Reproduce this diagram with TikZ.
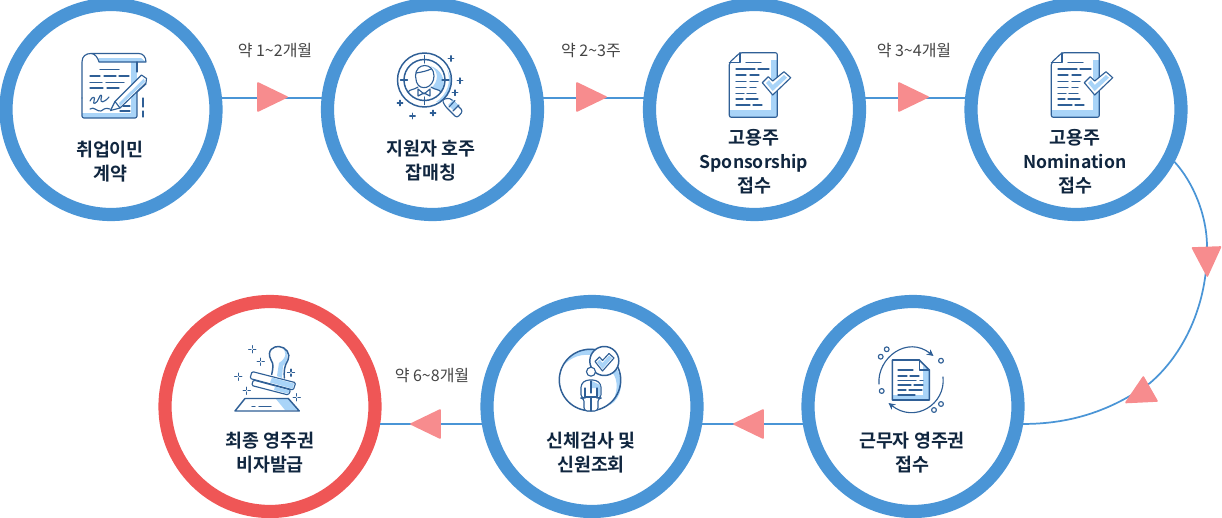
\documentclass[tikz,border=0pt]{standalone}
\usepackage{fontspec}
\setmainfont{Noto Sans CJK KR}
\newfontfamily\krb{Noto Sans CJK KR Bold}
\newfontfamily\krr{Noto Sans CJK KR}
\newcommand{\lat}[1]{{\fontsize{13.2}{18}\selectfont\kern-.1pt #1}}
\usetikzlibrary{arrows.meta}
\definecolor{ringb}{HTML}{4A95D6}
\definecolor{ringr}{HTML}{EF5656}
\definecolor{trip}{HTML}{F78C8E}
\definecolor{icd}{HTML}{2F5F96}
\definecolor{icl}{HTML}{A9D4F8}
\definecolor{txd}{HTML}{10263F}
\definecolor{txg}{HTML}{444444}
\tikzset{
 x=0.75pt,y=-0.75pt,
 ring/.style={circle,draw=ringb,fill=white,line width=9.9pt,minimum size=157.5pt,inner sep=0pt,outer sep=4.95pt},
 redring/.style={ring,draw=ringr},
 conn/.style={draw=ringb,line width=1.3pt},
 tri/.style={fill=trip,draw=trip,line width=1.2pt,line join=round},
 ic/.style={draw=icd,line width=.85pt,line cap=round,line join=round},
 lit/.style={fill=icl,draw=none},
 steplabel/.style={text=txd,align=center,inner sep=0pt,font=\fontsize{13.8}{18}\selectfont\krb},
 timelabel/.style={text=txg,inner sep=0pt,font=\fontsize{12}{14}\selectfont\krr},
 plus/.pic={\draw[ic,line width=.8pt] (-2.8,0)--(2.8,0) (0,-2.8)--(0,2.8);},
 spark/.pic={\draw[ic,line width=.8pt] (-3.6,0)--(-1.2,0) (1.2,0)--(3.6,0) (0,-3.6)--(0,-1.2) (0,1.2)--(0,3.6);},
 doccheck/.pic={
  \fill[lit] (770.5,60) rectangle (777.3,117.3);
  \fill[lit] (729.3,110) rectangle (777.3,117.3);
  \draw[ic,fill=none,rounded corners=1.5] (740,52.7)--(777.3,52.7)--(777.3,117.3)--(729.3,117.3)--(729.3,62.7)--cycle;
  \draw[ic] (740,52.7)--(740,62.7)--(729.3,62.7);
  \draw[ic] (746,62.7)--(761,62.7) (736,69)--(755,69) (758,69)--(769,69)
   (736,75)--(746,75) (750,75)--(759,75) (736,81.5)--(746,81.5) (750,81.5)--(758,81.5)
   (736,87.5)--(746,87.5) (750,87.5)--(756,87.5) (736,93.5)--(744,93.5) (747,93.5)--(756,93.5)
   (736,99)--(743,99) (746,99)--(758,99) (736,105)--(750,105) (753,105)--(762,105);
  \draw[ic,fill=white] (762.3,82.7)--(768.3,76.7)--(772.7,81)--(784,71.7)--(790.7,77.7)--(772.7,95)--cycle;
  \fill[lit] (766,83)--(769,80)--(772.7,85)--(784,75)--(787,77.7)--(772.7,91)--cycle;
 }
}
\begin{document}
\begin{tikzpicture}
\useasboundingbox (0,0) rectangle (1222,518);
\node[ring] (c1) at (111,109.5) {};
\node[ring] (c2) at (432.5,109.5) {};
\node[ring] (c3) at (754.5,109.5) {};
\node[ring] (c4) at (1076,109.5) {};
\node[ring] (c5) at (913,406.5) {};
\node[ring] (c6) at (592,406.5) {};
\node[redring] (c7) at (270,406.5) {};
\coordinate (k1) at (1207,247);
\coordinate (k2) at (1150,383);
\draw[conn] (c1.6) -- (c2.174);
\draw[conn] (c2.6) -- (c3.174);
\draw[conn] (c3.6) -- (c4.174);
\draw[conn] (c4.-28) .. controls (1193,182) and (1207,215) .. (k1)
  .. controls (1208,305) and (1183,355) .. (k2)
  .. controls (1115,408) and (1075,424) .. (c5.-9);
\draw[conn] (c5.189) -- (c6.-9);
\draw[conn] (c6.189) -- (c7.-9);
% triangles
\path[tri] (258,83)--(287,97)--(258,111)--cycle;
\path[tri] (577,83)--(606,97)--(577,111)--cycle;
\path[tri] (899,83)--(928,97)--(899,111)--cycle;
\path[tri] (1192.5,248)--(1220.5,247)--(1207.3,276)--cycle;
\path[tri] (1143.3,377)--(1157,401)--(1126,402.5)--cycle;
\path[tri] (763,410)--(734,424)--(763,438)--cycle;
\path[tri] (440,410)--(411,424)--(440,438)--cycle;
% time labels
\node[timelabel] (t1) at (275,51) {약 1\char`\~2개월};
\node[timelabel] (t2) at (591,50.5) {약 2\char`\~3주};
\node[timelabel] (t3) at (914,50.5) {약 3\char`\~4개월};
\node[timelabel] (t4) at (432,376) {약 6\char`\~8개월};
% step labels
\node[steplabel] (l1) at (110,161.5) {취업이민\\계약};
\node[steplabel] (l2) at (431,161) {지원자 호주\\잡매칭};
\node[steplabel] (l3) at (754,162) {고용주\\\lat{Sponsorship}\\접수};
\node[steplabel] (l4) at (1075,162) {고용주\\\lat{Nomination}\\접수};
\node[steplabel] (l5) at (912,453) {근무자 영주권\\접수};
\node[steplabel] (l6) at (591,453) {신체검사 및\\신원조회};
\node[steplabel] (l7) at (270,453) {최종 영주권\\비자발급};
% icon 1: contract
\fill[lit] (131,62) rectangle (137,118);
\fill[lit] (82,113) rectangle (137,118);
\fill[lit] (99,58) -- (141,58) -- (146,62) -- (99,62) -- cycle;
\draw[ic] (82,98) -- (82,62) .. controls (82,56) and (86,53.5) .. (91,53.5) -- (139,53.5) .. controls (143,53.5) and (146,57) .. (146,62) -- (99,62) .. controls (98,58) and (95,53.5) .. (91,53.5);
\draw[ic,rounded corners=1.5] (82,98) -- (82,118) -- (137,118) -- (137,88);
\draw[ic] (137,62) -- (137,72);
\draw[ic] (143,98)--(143,107) (143,111)--(143,117);
\draw[ic] (100,69.5)--(119,69.5) (90,76)--(100,76) (104,76)--(116,76) (119,76)--(129,76)
 (90,82.5)--(102,82.5) (106,82.5)--(124,82.5) (90,88)--(103,88) (107,88)--(119,88)
 (123,106)--(130,106) (120,111)--(130,111);
\draw[ic] (90,101) .. controls (92,96) and (96,96) .. (94,101) .. controls (92,105) and (97,104) .. (99,98) .. controls (100,94) and (103,94) .. (101,99) .. controls (100,103) and (104,103) .. (109,97);
\draw[ic] (90,109) .. controls (94,106) and (97,112) .. (101,111) .. controls (104,110) and (104,107) .. (110,109);
\draw[ic,fill=white] (110.5,110.5)--(115,101.5)--(141.5,75)--(146.5,78.5)--(146,83)--(120,108)--cycle;
\fill[lit] (119,103)--(144,78.5)--(145,82)--(120,106)--cycle;
\draw[ic] (115,101.5)--(120,108);
\draw[ic] (136,93)--(146,84);
% icon 2: search person
\fill[lit] (447,69) .. controls (452,82) and (447,95) .. (436,102) .. controls (448,102) and (453,88) .. (451,78) -- cycle;
\fill[lit] (430,66) .. controls (439,70) and (439,82) .. (431,88) -- (442,92) .. controls (447,80) and (441,69) .. (430,66) -- cycle;
\draw[ic,line width=1.1pt] (424.5,80) circle[radius=27];
\draw[ic,line width=1.1pt] (424.5,80) circle[radius=20.5];
\draw[ic] (424.5,55.5)--(424.5,63) (424.5,97)--(424.5,104.5) (400.5,80)--(407.5,80) (442,80)--(449,80);
\draw[ic] (415.5,76) .. controls (415.5,62) and (434,62) .. (434,76) .. controls (434,88) and (420,92) .. (416.5,82) -- cycle;
\draw[ic] (416,73) .. controls (422,72) and (427,71) .. (431,69);
\draw[ic] (408,92) .. controls (410,89) and (414,90) .. (418,87) (431,87) .. controls (435,90) and (439,89) .. (441,92);
\draw[ic] (418,89)--(424,94)--(430,89)--(430,96)--(424,93)--(418,96)--cycle;
\draw[ic,fill=white,rounded corners=2] (442,99.5)--(450,98)--(463,111)--(457,118)--(445,106)--cycle;
\fill[lit] (448,105)--(453,100)--(458,105)--(453,110)--cycle;
\draw[ic] (449,107)--(455,100.5) (453,111)--(459,105);
\foreach \px/\py in {451/58.5,460/80.7,455/92.7,400/103,412.5/116,433/113} \pic at (\px,\py) {plus};
% icons 3, 4
\pic at (0,0) {doccheck};
\begin{scope}[xshift=241.5pt]
\pic at (0,0) {doccheck};
\end{scope}
% icon 5: doc cycle
\fill[lit] (923,366) -- (929.3,370) -- (929.3,400) -- (892.3,400) -- (892.3,395) -- (923,395) -- cycle;
\draw[ic,line width=1.2pt] (892.3,360)--(919.3,360)--(929.3,370)--(929.3,400)--(892.3,400)--cycle;
\draw[ic] (919.3,360)--(919.3,370)--(929.3,370);
\draw[ic] (898,370)--(913,370) (898,376)--(907,376) (910,376)--(919,376) (898,380.5)--(916,380.5) (920,380.5)--(923,380.5) (898,385)--(911,385) (914,385)--(923,385) (898,390)--(906,390) (909,390)--(922,390) (898,395)--(915,395);
\draw[ic,-{Stealth[length=5pt,width=5pt]}] (879,384) .. controls (877,358) and (907,335) .. (933.5,356);
\draw[ic,-{Stealth[length=5pt,width=5pt]}] (943,377) .. controls (946,404) and (915,424) .. (888.5,403);
\foreach \px/\py in {880.7/356.7,886.7/349.3,941/360.7,881.7/391,941/404,934/410} \draw[ic,fill=white] (\px,\py) circle[radius=2.4];
% icon 6: person check
\fill[lit] (564,365) .. controls (572,350) and (588,347) .. (597,349) -- (596,356) .. controls (582,352) and (570,358) .. (564,365) -- cycle;
\fill[lit] (615,366) .. controls (625,380) and (622,398) .. (610,405) .. controls (618,395) and (619,380) .. (612,372) -- cycle;
\draw[ic,line width=1.1pt] (590,380) circle[radius=30.7];
\draw[ic,fill=white,line width=1.1pt] (604.3,361) circle[radius=14.5];
\draw[ic,fill=white] (591,371.7) circle[radius=4.5];
\fill[lit] (597,362)--(599.5,359.5)--(602.5,363)--(609,355.5)--(612,358)--(602.5,369)--cycle;
\draw[ic] (595,361.5)--(599.5,357)--(602.5,360.5)--(609,353.5)--(614,358)--(602.5,371)--cycle;
\draw[ic,fill=white,rounded corners=2.5] (581,398)--(581,384)--(586,380)--(596,380)--(601,384)--(601,398)--(598,398)--(598,411)--(584,411)--(584,398)--cycle;
\fill[lit] (592,381)--(600,385)--(600,396)--(597,396)--(597,388)--(592,388)--cycle;
\draw[ic] (585,388)--(585,398) (597,388)--(597,398) (591,381)--(591,393) (591,397)--(591,411);
\draw[ic] (585,397)--(597,397);
% icon 7: stamp
\fill[lit] (279,363) .. controls (288,357) and (286,351) .. (282,347.5) .. controls (290,350) and (288,362) .. (283,366) -- (282,378) -- (277,376) -- cycle;
\draw[ic,line width=1.1pt] (271.7,374.5) .. controls (273,368) and (274,364) .. (271,360) .. controls (266,350) and (274,346) .. (279,346.5) .. controls (286,347) and (291,354) .. (288,360) .. controls (284,366) and (284,372) .. (284.3,378);
\draw[ic,fill=white,rounded corners=1] (252,371.5)--(295.7,382.7)--(293.3,390)--(250,378.5)--cycle;
\draw[ic,fill=white,rounded corners=1] (253.3,380)--(290.7,390)--(288.3,395)--(251.7,385.5)--cycle;
\fill[lit] (272,377.5)--(294,383.5)--(292.8,388.8)--(270,382.5)--cycle;
\fill[lit] (275,386.5)--(289.5,390.5)--(288,393.8)--(274,390)--cycle;
\fill[lit] (276,399)--(288,399)--(298,410)--(285,410)--cycle;
\draw[ic,line width=1.1pt] (245,398.5)--(288.3,398.5)--(299.3,411)--(235,411)--cycle;
\draw[ic] (252,406.5)--(255,406.5) (259,406.5)--(271,406.5);
\foreach \px/\py in {252.3/349.3,260.7/361.7,238.3/376.7,291/372.7,246.7/390.7,296.7/397.3} \pic at (\px,\py) {spark};
\end{tikzpicture}
\end{document}
